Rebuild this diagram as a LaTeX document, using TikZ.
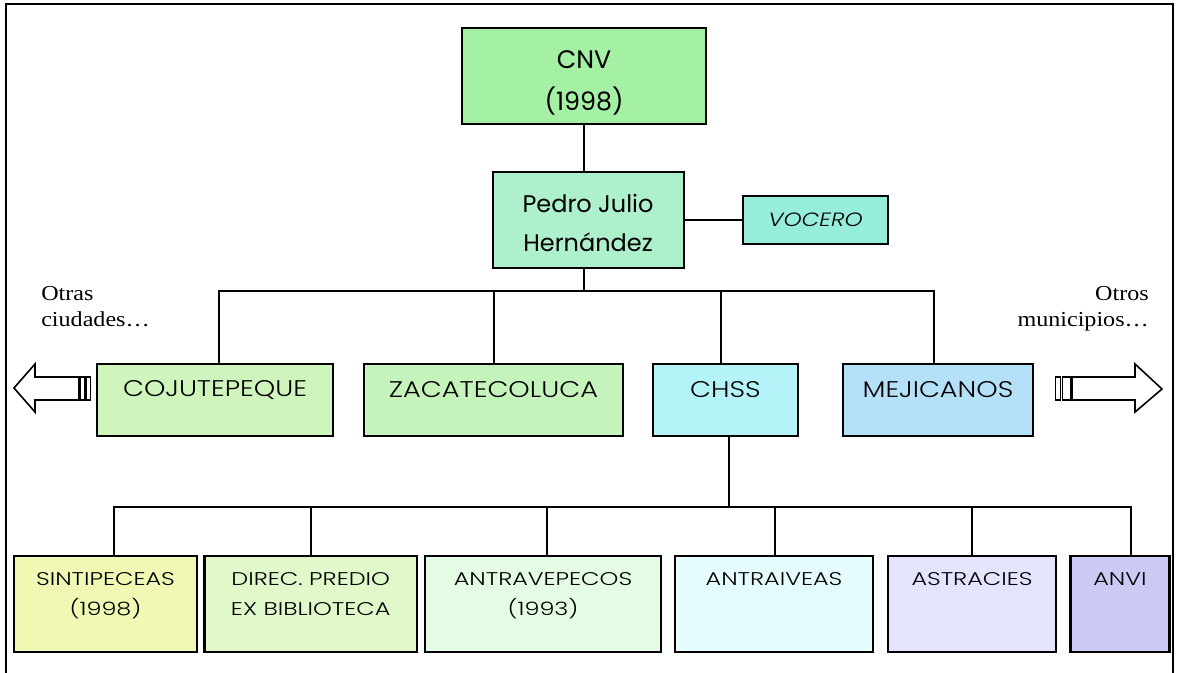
\documentclass[tikz,border=0pt]{standalone}
\usepackage{fontspec}
\setmainfont{Liberation Serif}
\newfontfamily\sidefont[FakeStretch=1.13]{Liberation Serif}
\newfontfamily\hand{Poppins}
\newfontfamily\handw[FakeStretch=1.2]{Poppins Light}
\newfontfamily\handx[FakeStretch=1.3]{Poppins Light}
\usetikzlibrary{calc}
\definecolor{cCNV}{HTML}{A4F0A4}
\definecolor{cPJ}{HTML}{AEF0CC}
\definecolor{cVOC}{HTML}{96EEDA}
\definecolor{cCOJ}{HTML}{D0F5BC}
\definecolor{cZAC}{HTML}{C4F4BC}
\definecolor{cCHS}{HTML}{B4F4F8}
\definecolor{cMEJ}{HTML}{B4E0F8}
\definecolor{cSIN}{HTML}{F0F8B4}
\definecolor{cDIR}{HTML}{E0F8CA}
\definecolor{cATV}{HTML}{E4FCE4}
\definecolor{cATI}{HTML}{E4FCFC}
\definecolor{cAST}{HTML}{E4E4FC}
\definecolor{cANV}{HTML}{CACAF4}
\tikzset{
  orgbox/.style={draw=black, line width=2pt, rectangle, inner sep=0pt},
  bw/.style={minimum width=#1*0.75pt},
  bh/.style={minimum height=#1*0.75pt},
  conn/.style={draw=black, line width=1.5pt},
  midtxt/.style={font=\handw\fontsize{17}{18}\selectfont, inner sep=0pt},
  lowtxt/.style={font=\handx\fontsize{13.8}{22.5}\selectfont, inner sep=0pt, align=center, anchor=north},
  sidetxt/.style={font=\sidefont\fontsize{16}{20}\selectfont, inner sep=0pt},
  arrowshape/.style={draw=black, line width=1.2pt, fill=white, line join=miter}
}
\begin{document}
\begin{tikzpicture}[x=0.75pt,y=-0.75pt]
\useasboundingbox (0,0) rectangle (1177,672);
% frame
\draw[line width=1.6pt] (6,700) -- (6,4) -- (1173,4) -- (1173,700);
% level 0 / 1
\node[orgbox, fill=cCNV, bw=244, bh=96] (cnv) at (584,76) {};
\node[font=\hand\fontsize{19}{31}\selectfont, align=center, inner sep=0pt] (cnvt) at (584,83) {CNV\\(1998)};
\node[orgbox, fill=cPJ, bw=191, bh=96] (pj) at (588.5,220) {};
\node[font=\hand\fontsize{18}{29}\selectfont, align=center, inner sep=0pt] (pjt) at (588,223) {Pedro Julio\\Hernández};
\node[orgbox, fill=cVOC, bw=145, bh=48] (voc) at (815.5,220) {};
\node[font=\handw\itshape\fontsize{14.4}{16}\selectfont, inner sep=0pt] (voct) at (815.5,220) {VOCERO};
% level 2
\node[orgbox, fill=cCOJ, bw=236, bh=72] (coj) at (215,400) {};
\node[midtxt] (cojt) at (215,390) {COJUTEPEQUE};
\node[orgbox, fill=cZAC, bw=259, bh=72] (zac) at (493.5,400) {};
\node[midtxt] (zact) at (493.5,390) {ZACATECOLUCA};
\node[orgbox, fill=cCHS, bw=145, bh=72] (chs) at (725.5,400) {};
\node[midtxt] (chst) at (725.5,390) {CHSS};
\node[orgbox, fill=cMEJ, bw=190, bh=72] (mej) at (938,400) {};
\node[midtxt] (mejt) at (938,390) {MEJICANOS};
% level 3
\node[orgbox, fill=cSIN, bw=183, bh=96] (sin) at (105.5,604) {};
\node[lowtxt] (sint) at ($(sin.north)+(0,18)$) {SINTIPECEAS\\(1998)};
\node[orgbox, fill=cDIR, bw=212.5, bh=96] (dir) at (310.75,604) {};
\node[lowtxt] (dirt) at ($(dir.north)+(0,18)$) {DIREC. PREDIO\\EX BIBLIOTECA};
\node[orgbox, fill=cATV, bw=236, bh=96] (atv) at (543,604) {};
\node[lowtxt] (atvt) at ($(atv.north)+(0,18)$) {ANTRAVEPECOS\\(1993)};
\node[orgbox, fill=cATI, bw=198, bh=96] (ati) at (774,604) {};
\node[lowtxt] (atit) at ($(ati.north)+(0,18)$) {ANTRAIVEAS};
\node[orgbox, fill=cAST, bw=168, bh=96] (ast) at (972,604) {};
\node[lowtxt] (astt) at ($(ast.north)+(0,18)$) {ASTRACIES};
\node[orgbox, fill=cANV, bw=99, bh=96] (anv) at (1120,604) {};
\node[lowtxt] (anvt) at ($(anv.north)+(0,18)$) {ANVI};
% connectors
\coordinate (bus2) at (584,292);
\coordinate (bus3) at (729,508);
\draw[conn] (cnv.south) -- (cnv.south |- pj.north);
\draw[conn] (pj.east |- voc.west) -- (voc.west);
\draw[conn] (cnv.south |- pj.south) -- (bus2);
\draw[conn] ($(coj.north)+(4,0)$) |- ($(mej.north)+(-4,-72)$) -- ($(mej.north)+(-4,0)$);
\draw[conn] (zac.north) -- (zac.north |- bus2);
\draw[conn] ($(chs.north)+(-4.5,0)$) -- ($(chs.north)+(-4.5,-72)$);
\draw[conn] ($(chs.south)+(3.5,0)$) -- (bus3);
\draw[conn] ($(sin.north)+(8,0)$) |- ($(anv.north)+(11,-48)$) -- ($(anv.north)+(11,0)$);
\draw[conn] (dir.north) -- (dir.north |- bus3);
\draw[conn] ($(atv.north)+(3.5,0)$) -- ($(atv.north)+(3.5,-48)$);
\draw[conn] ($(ati.north)+(1,0)$) -- ($(ati.north)+(1,-48)$);
\draw[conn] (ast.north) -- (ast.north |- bus3);
% side texts
\node[sidetxt, anchor=base west] (otras) at (41,300) {Otras};
\node[sidetxt, anchor=base west] (ciud) at (41,326.7) {ciudades…};
\node[sidetxt, anchor=base east] (otros) at (1149,300) {Otros};
\node[sidetxt, anchor=base east] (muni) at (1149,326.7) {municipios…};
% striped arrows
\draw[arrowshape] (14,388) -- (35,364) -- (35,377) -- (79,377) -- (79,400) -- (35,400) -- (35,412) -- cycle;
\draw[arrowshape] (80.5,377) rectangle (84.5,400);
\draw[arrowshape] (86,377) rectangle (90.5,400);
\draw[arrowshape] (1162,389) -- (1135,364) -- (1135,377) -- (1072,377) -- (1072,400) -- (1135,400) -- (1135,412) -- cycle;
\draw[arrowshape] (1062.5,377) rectangle (1070.5,400);
\draw[arrowshape] (1055.5,377) rectangle (1060.5,400);
\end{tikzpicture}
\end{document}
